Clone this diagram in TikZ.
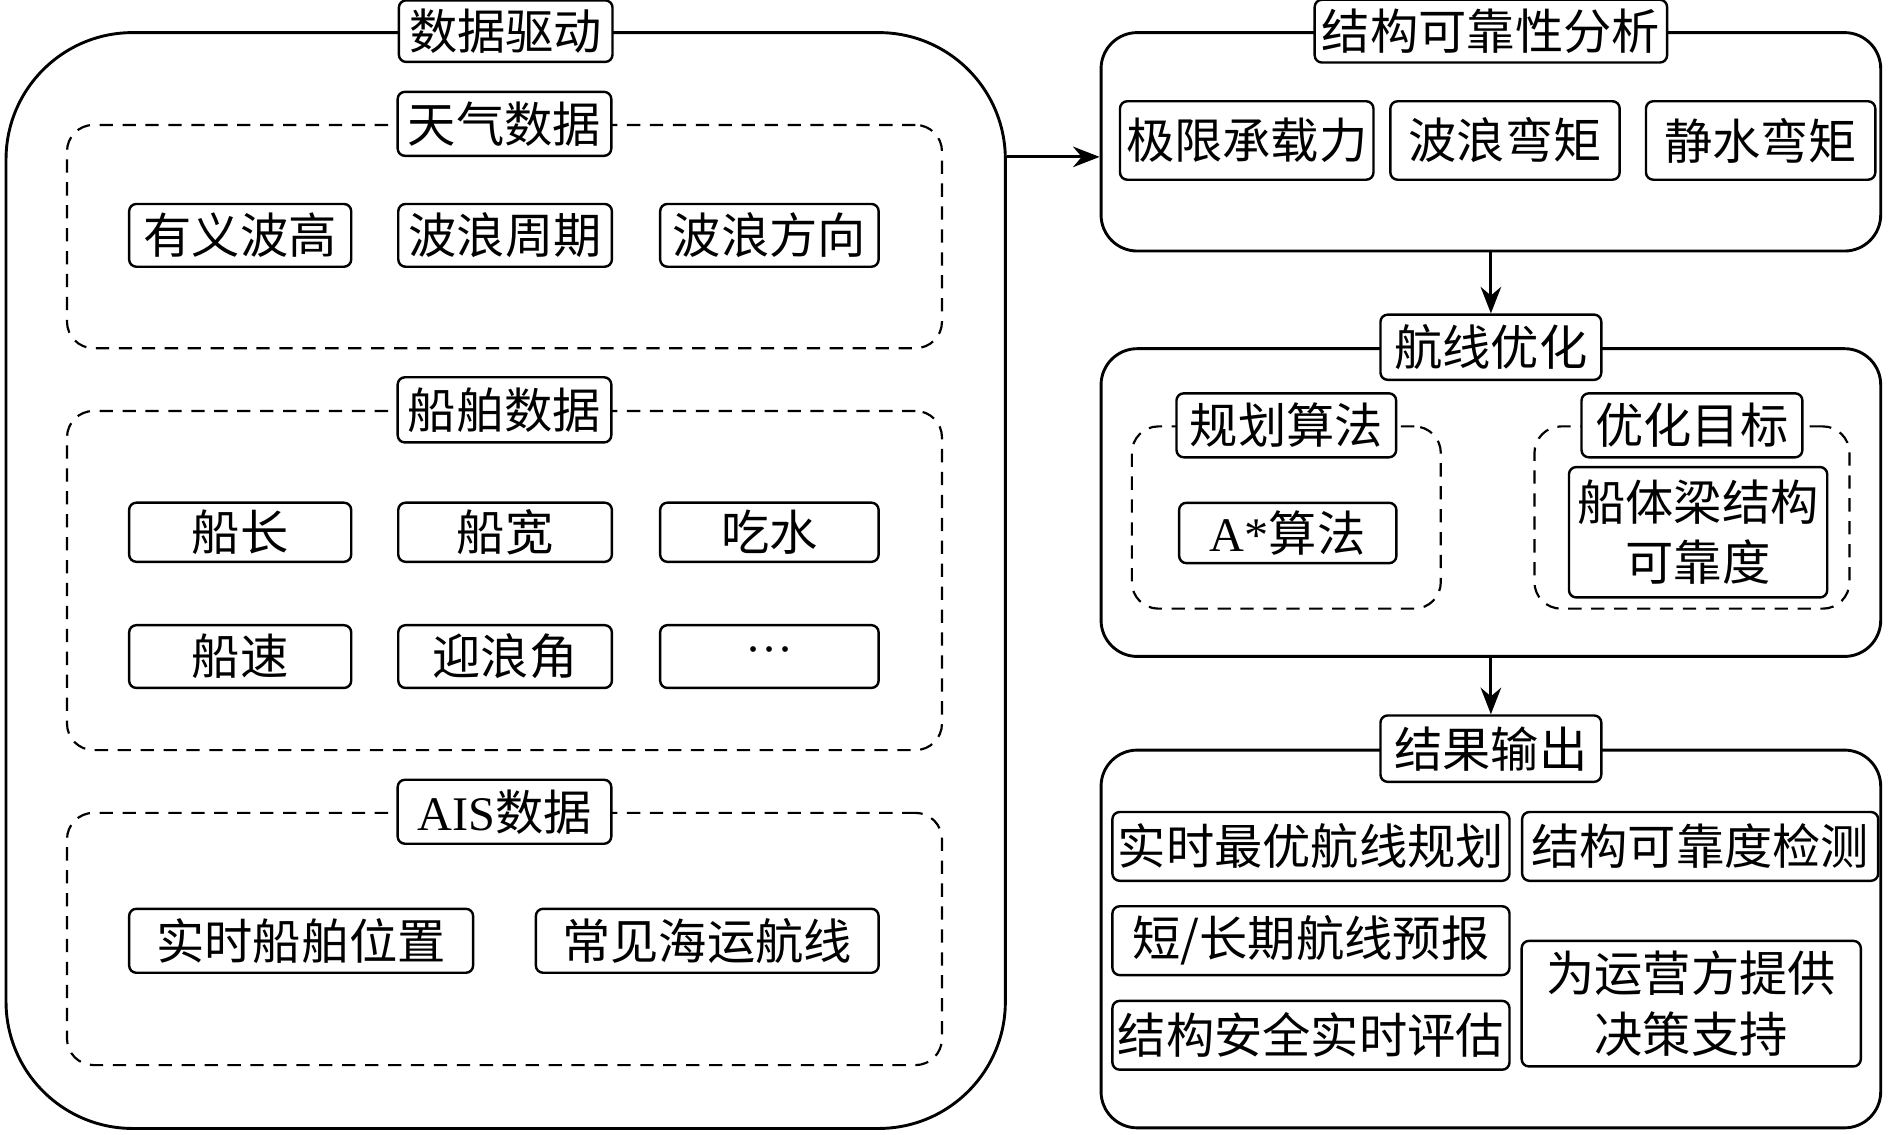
\documentclass[tikz,border=0pt]{standalone}
\usepackage{fontspec}
\setmainfont{Noto Sans CJK SC}
\newfontfamily\lat{Liberation Serif}
\usetikzlibrary{arrows.meta}
\tikzstyle{group} = [rectangle, rounded corners=30pt, draw=black, line width=2.4pt, inner sep=0pt]
\tikzstyle{biggroup} = [group, rounded corners=105pt]
\tikzstyle{subgroup} = [rectangle, rounded corners=22pt, draw=black, line width=1.8pt, dash pattern=on 11pt off 8pt, inner sep=0pt]
\tikzstyle{tag} = [rectangle, rounded corners=6pt, draw=black, fill=white, line width=2pt, inner sep=0pt, text centered]
\tikzstyle{item} = [rectangle, rounded corners=6pt, draw=black, line width=2pt, inner sep=0pt, align=center]
\tikzstyle{arrow} = [line width=2.4pt, -{Stealth[length=22pt, width=17pt]}]

\begin{document}
\begin{tikzpicture}[x=1pt, y=-1pt, font=\fontsize{40pt}{50pt}\selectfont]
    \useasboundingbox (0,0) rectangle (1566,940);

    % data driven part
    \node (drive) [biggroup, minimum width=828pt, minimum height=908pt] at (419,481) {};
    \node (weather) [subgroup, minimum width=725pt, minimum height=185pt] at (418,196) {};
    \node (ship) [subgroup, minimum width=725pt, minimum height=281pt] at (418,481) {};
    \node (ais) [subgroup, minimum width=725pt, minimum height=209pt] at (418,778) {};
    \node (drivetag) [tag, minimum width=177pt, minimum height=51pt] at (drive.north) {数据驱动};
    \node (weathertag) [tag, minimum width=177pt, minimum height=53pt] at (weather.north) {天气数据};
    \node (shiptag) [tag, minimum width=177pt, minimum height=54pt] at (ship.north) {船舶数据};
    \node (aistag) [tag, minimum width=177pt, minimum height=53pt] at (ais.north) {{\lat AIS}数据};

    \node (wh) [item, minimum width=184pt, minimum height=52pt] at (199,195) {有义波高};
    \node (wt) [item, minimum width=177pt, minimum height=52pt] at (418.5,195) {波浪周期};
    \node (wd) [item, minimum width=181pt, minimum height=52pt] at (637.5,195) {波浪方向};

    \node (len) [item, minimum width=184pt, minimum height=49pt] at (199,441) {船长};
    \node (wid) [item, minimum width=177pt, minimum height=49pt] at (418.5,441) {船宽};
    \node (dra) [item, minimum width=181pt, minimum height=49pt] at (637.5,441) {吃水};
    \node (spd) [item, minimum width=184pt, minimum height=52pt] at (199,544) {船速};
    \node (ang) [item, minimum width=177pt, minimum height=52pt] at (418.5,544) {迎浪角};
    \node (etc) [item, minimum width=181pt, minimum height=52pt] at (637.5,544) {\lat ···};

    \node (pos) [item, minimum width=285pt, minimum height=53pt] at (249.5,779.5) {实时船舶位置};
    \node (lane) [item, minimum width=284pt, minimum height=53pt] at (586,779.5) {常见海运航线};

    % structural reliability
    \node (sra) [group, minimum width=646pt, minimum height=181pt] at (1235.3,117.5) {};
    \node (sratag) [tag, minimum width=292pt, minimum height=52pt] at (sra.north) {结构可靠性分析};
    \node (ult) [item, minimum width=210pt, minimum height=65pt] at (1033,116.4) {极限承载力};
    \node (wbm) [item, minimum width=190pt, minimum height=65pt] at (1247,116.4) {波浪弯矩};
    \node (sbm) [item, minimum width=190pt, minimum height=65pt] at (1458.8,116.4) {静水弯矩};

    % route optimization
    \node (rop) [group, minimum width=646pt, minimum height=255pt] at (1235.3,416.4) {};
    \node (plan) [subgroup, minimum width=256pt, minimum height=151pt] at (1065.8,428.8) {};
    \node (goal) [subgroup, minimum width=261pt, minimum height=151pt] at (1401.9,428.8) {};
    \node (roptag) [tag, minimum width=183pt, minimum height=54pt] at (rop.north) {航线优化};
    \node (plantag) [tag, minimum width=182pt, minimum height=53pt] at (plan.north) {规划算法};
    \node (goaltag) [tag, minimum width=183pt, minimum height=53pt] at (goal.north) {优化目标};
    \node (astar) [item, minimum width=180pt, minimum height=50pt] at (1067,441.6) {{\lat A*}算法};
    \node (hull) [item, minimum width=214pt, minimum height=108pt] at (1407,441) {船体梁结构\\可靠度};

    % results
    \node (out) [group, minimum width=646pt, minimum height=313pt] at (1235.3,778) {};
    \node (outtag) [tag, minimum width=183pt, minimum height=55pt] at (out.north) {结果输出};
    \node (best) [item, minimum width=329pt, minimum height=57pt] at (1086.2,701.3) {实时最优航线规划};
    \node (chk) [item, minimum width=295pt, minimum height=57pt] at (1408.7,701.3) {结构可靠度检测};
    \node (fcst) [item, minimum width=329pt, minimum height=57pt] at (1086.2,779.4) {短/长期航线预报};
    \node (eval) [item, minimum width=329pt, minimum height=57pt] at (1086.2,857.8) {结构安全实时评估};
    \node (dec) [item, minimum width=281pt, minimum height=104pt] at (1401.3,831.6) {为运营方提供\\决策支持};

    \coordinate (arrowy) at (0,130);
    \draw [arrow] (drive.east |- arrowy) -- (sra.west |- arrowy);
    \draw [arrow] (sra.south) -- (roptag.north);
    \draw [arrow] (rop.south) -- (outtag.north);
\end{tikzpicture}
\end{document}
